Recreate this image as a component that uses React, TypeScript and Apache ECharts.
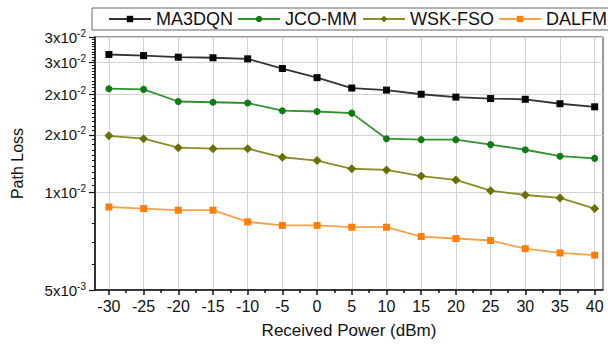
import React, { useEffect, useRef } from "react";
import * as echarts from "echarts";

const xValues = [-30, -25, -20, -15, -10, -5, 0, 5, 10, 15, 20, 25, 30, 35, 40];
const xMinorTicks = [-27.5, -22.5, -17.5, -12.5, -7.5, -2.5, 2.5, 7.5, 12.5, 17.5, 22.5, 27.5, 32.5, 37.5];

const ma3dqn = [0.0265, 0.0263, 0.026, 0.0259, 0.0257, 0.024, 0.0225, 0.0209, 0.0206, 0.02, 0.0196, 0.0194, 0.0193, 0.0187, 0.0183];
const jcoMm = [0.0208, 0.0207, 0.019, 0.0189, 0.0188, 0.0178, 0.0177, 0.0175, 0.0146, 0.0145, 0.0145, 0.014, 0.0135, 0.0129, 0.0127];
const wskFso = [0.0149, 0.0146, 0.0137, 0.0136, 0.0136, 0.0128, 0.0125, 0.0118, 0.0117, 0.0112, 0.0109, 0.0101, 0.0098, 0.0096, 0.0089];
const dalfm = [0.009, 0.0089, 0.0088, 0.0088, 0.0081, 0.0079, 0.0079, 0.0078, 0.0078, 0.0073, 0.0072, 0.0071, 0.0067, 0.0065, 0.0064];

const seriesNames = ["MA3DQN", "JCO-MM", "WSK-FSO", "DALFM"];
const legendLefts = [108, 237, 362, 498];

const yTickValues = [0.005, 0.01, 0.015, 0.02, 0.025, 0.03];
const yTickMantissas = ["5", "1", "2", "2", "3", "3"];
const yTickExponents = ["-3", "-2", "-2", "-2", "-2", "-2"];
const yMinorTicks = [
  0.006, 0.007, 0.008, 0.009,
  0.0105, 0.011, 0.0115, 0.012, 0.0125, 0.013, 0.0135, 0.014, 0.0145,
  0.0155, 0.016, 0.0165, 0.017, 0.0175, 0.018, 0.0185, 0.019, 0.0195,
  0.0205, 0.021, 0.0215, 0.022, 0.0225, 0.023, 0.0235, 0.024, 0.0245,
  0.0255, 0.026, 0.0265, 0.027, 0.0275, 0.028, 0.0285, 0.029, 0.0295,
];

const FONT = "'Liberation Sans', Arial, sans-serif";
const L = (v: number) => Math.log10(v);
const Y_MIN = L(0.005);
const Y_MAX = L(0.03);
const X_MIN = -32;
const X_MAX = 41.2;

export default function App() {
  const ref = useRef<HTMLDivElement>(null);

  useEffect(() => {
    if (!ref.current) return;
    const chart = echarts.init(ref.current, undefined, { renderer: "svg" });

    const yLogTicks = yTickValues.map(L);
    const yLogMinor = yMinorTicks.map(L);

    const yFormatter = (v: number) => {
      let best = 0;
      let bd = Infinity;
      yLogTicks.forEach((t, i) => {
        const d = Math.abs(t - v);
        if (d < bd) {
          bd = d;
          best = i;
        }
      });
      return `{b|${yTickMantissas[best]}x10}{s|${yTickExponents[best]}}`;
    };

    const mk = (
      name: string,
      values: number[],
      symbol: string,
      size: number,
      marker: string,
      line: string
    ) => ({
      name,
      type: "line",
      xAxisIndex: 0,
      yAxisIndex: 0,
      data: xValues.map((x, i) => [x, L(values[i])]),
      symbol,
      symbolSize: size,
      itemStyle: { color: marker },
      lineStyle: { color: line, width: 1.8 },
    });

    const axisColor = "#111";

    chart.setOption({
      animation: false,
      backgroundColor: "#ffffff",
      textStyle: { fontFamily: FONT },
      grid: {
        left: 95,
        right: 5,
        top: 37,
        bottom: 51,
        show: true,
        borderColor: "#333",
        borderWidth: 1,
      },
      graphic: [
        {
          type: "rect",
          shape: { x: 92, y: 8, width: 540, height: 22 },
          style: { fill: "transparent", stroke: "#666", lineWidth: 1 },
        },
      ],
      legend: seriesNames.map((n, i) => ({
        data: [n],
        left: legendLefts[i],
        top: 10,
        padding: 0,
        itemWidth: 42,
        itemHeight: 8,
        itemGap: 0,
        textStyle: { fontSize: 18, color: "#111", fontFamily: FONT },
      })),
      xAxis: [
        {
          type: "value",
          position: "bottom",
          min: X_MIN,
          max: X_MAX,
          name: "Received Power (dBm)",
          nameLocation: "middle",
          nameGap: 32,
          nameTextStyle: { fontSize: 17, color: "#111", fontFamily: FONT },
          axisLine: { show: true, onZero: false, lineStyle: { color: axisColor, width: 1.5 } },
          axisTick: { show: true, customValues: xValues, length: 5, lineStyle: { color: axisColor, width: 1.5 } },
          axisLabel: { customValues: xValues, fontSize: 16, color: "#111", margin: 8, fontFamily: FONT },
          splitLine: { show: true, lineStyle: { color: "#d2d2d2", width: 1 } },
        },
        {
          type: "value",
          position: "bottom",
          min: X_MIN,
          max: X_MAX,
          axisLine: { show: false, onZero: false },
          axisTick: { show: true, customValues: xMinorTicks, length: 3, lineStyle: { color: axisColor, width: 1.5 } },
          axisLabel: { show: false },
          splitLine: { show: false },
        },
      ],
      yAxis: [
        {
          type: "value",
          position: "left",
          min: Y_MIN,
          max: Y_MAX,
          name: "Path Loss",
          nameLocation: "middle",
          nameGap: 70,
          nameTextStyle: { fontSize: 16, color: "#111", fontFamily: FONT },
          axisLine: { show: true, onZero: false, lineStyle: { color: axisColor, width: 1.5 } },
          axisTick: { show: true, customValues: yLogTicks, length: 6, lineStyle: { color: axisColor, width: 1.2 } },
          axisLabel: {
            customValues: yLogTicks,
            formatter: yFormatter,
            margin: 9,
            rich: {
              b: { fontSize: 15, lineHeight: 18, color: "#111", fontFamily: FONT, verticalAlign: "middle" },
              s: { fontSize: 10, lineHeight: 10, color: "#111", fontFamily: FONT, verticalAlign: "top" },
            },
          },
          splitLine: { show: true, lineStyle: { color: "#d2d2d2", width: 1 } },
        },
        {
          type: "value",
          position: "left",
          min: Y_MIN,
          max: Y_MAX,
          axisLine: { show: false, onZero: false },
          axisTick: { show: true, customValues: yLogMinor, length: 3, lineStyle: { color: axisColor, width: 1 } },
          axisLabel: { show: false },
          splitLine: { show: false },
        },
      ],
      series: [
        mk(seriesNames[0], ma3dqn, "rect", 7, "#050505", "#333333"),
        mk(seriesNames[1], jcoMm, "circle", 7, "#137a13", "#2f922f"),
        mk(seriesNames[2], wskFso, "diamond", 9, "#6b6e00", "#8a8c2a"),
        mk(seriesNames[3], dalfm, "rect", 7, "#ff7f0a", "#f5a24a"),
      ],
    });

    return () => chart.dispose();
  }, []);

  return (
    <div
      ref={ref}
      style={{ position: "fixed", left: 0, top: 0, width: 608, height: 344 }}
    />
  );
}
